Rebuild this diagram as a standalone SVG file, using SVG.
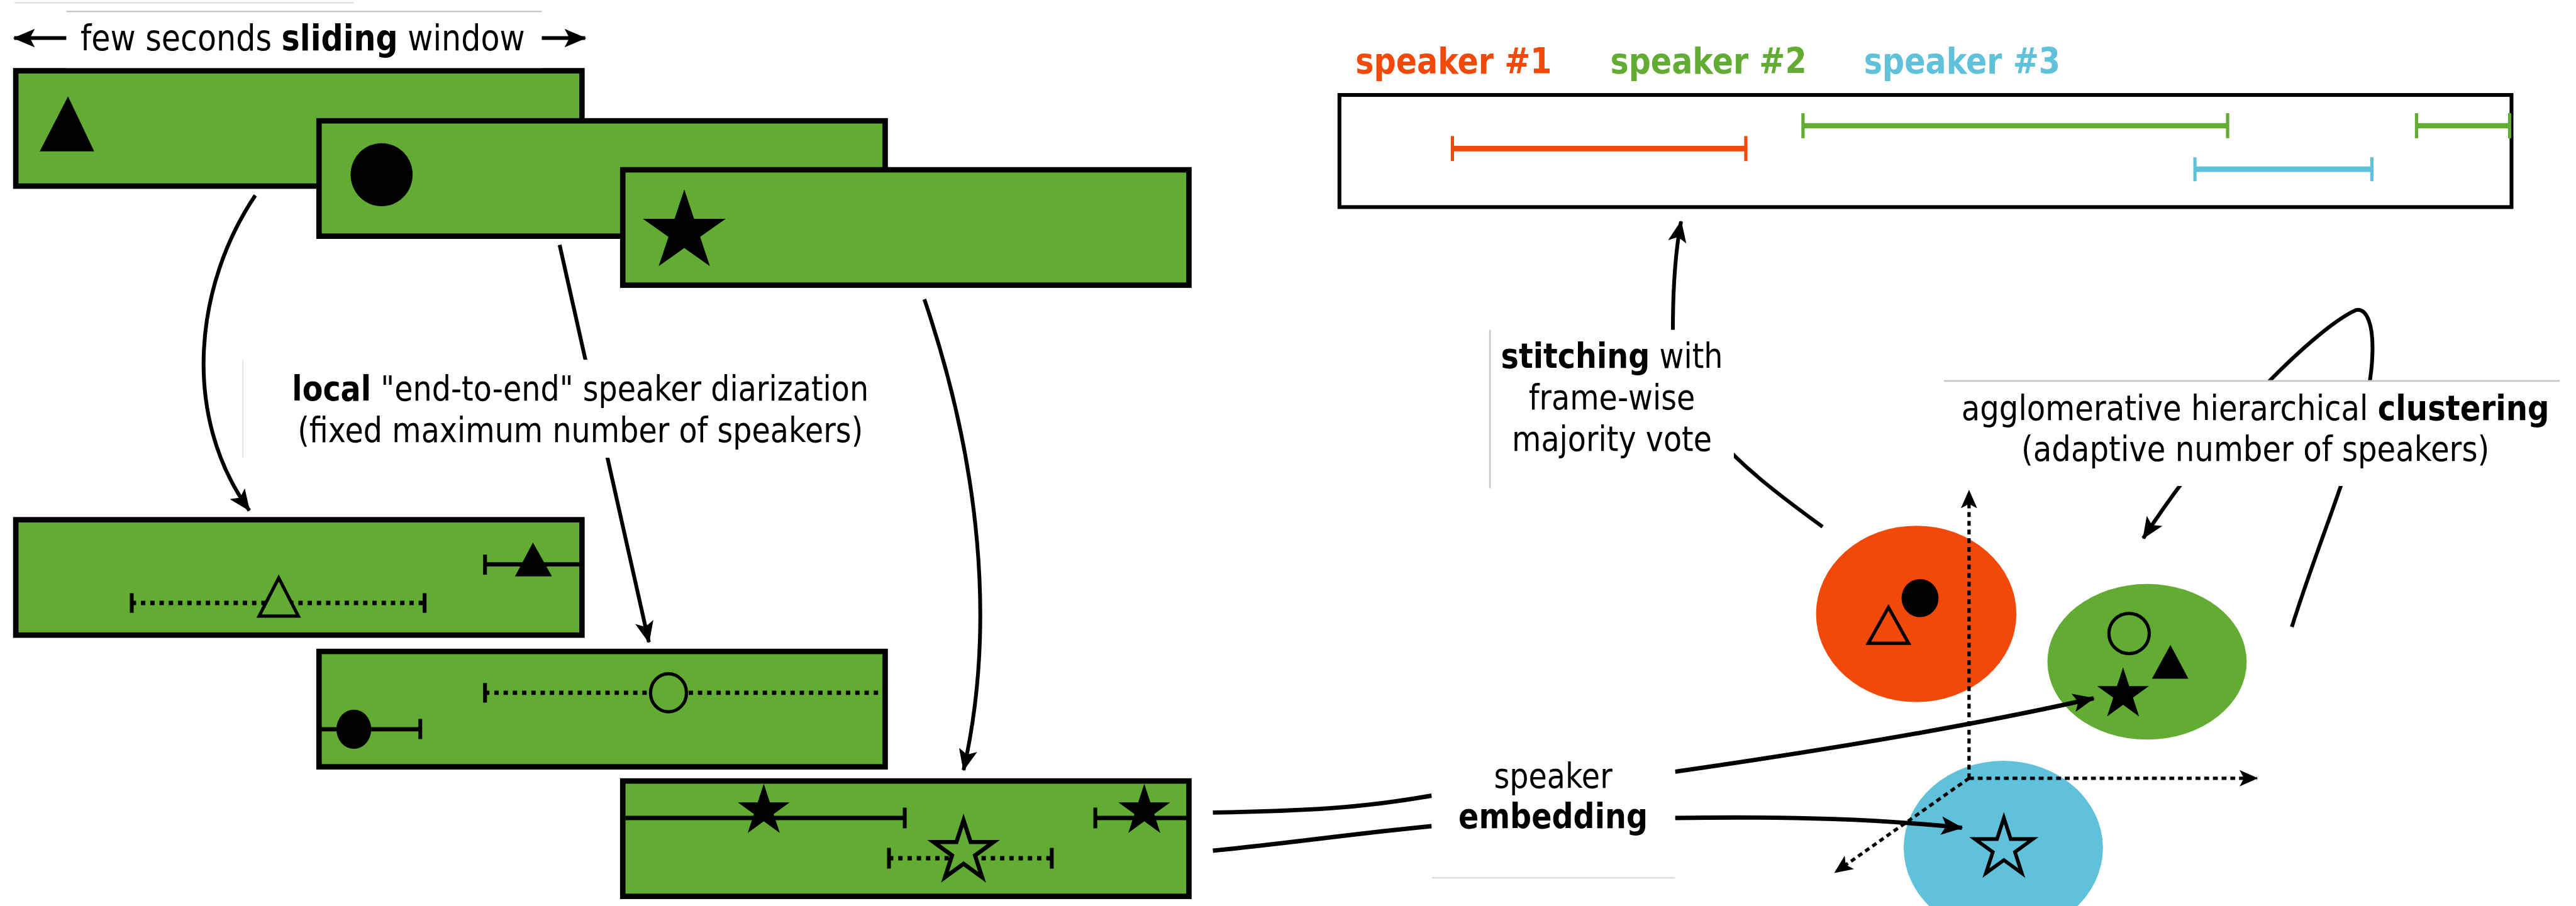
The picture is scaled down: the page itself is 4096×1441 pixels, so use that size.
<svg xmlns="http://www.w3.org/2000/svg" xmlns:xlink="http://www.w3.org/1999/xlink" width="4096" height="1441" viewBox="0 0 4096 1441">
  <style>
    .win { fill: #62ac33; stroke: #000; stroke-width: 10; }
    .ink { fill: #000; stroke: none; }
    .seg { stroke: #000; stroke-width: 8; fill: none; }
    .dot { stroke: #000; stroke-width: 8; fill: none; stroke-dasharray: 8 9; }
    .tick { stroke: #000; stroke-width: 7; fill: none; }
    .hollow { stroke: #000; stroke-width: 6; }
    .conn { stroke: #000; stroke-width: 7; fill: none; }
    .thick { stroke-width: 8; }
    .axis { stroke: #000; stroke-width: 6; fill: none; stroke-dasharray: 9 7; }
    .box { fill: #fff; stroke: none; }
    .edge { stroke: #c8c8c8; stroke-width: 3; }
    .lbl { font-family: "DejaVu Sans", Verdana, sans-serif; font-size: 64px; fill: #000; }
    .b { font-weight: bold; }
    .spk { font-family: "DejaVu Sans", Verdana, sans-serif; font-size: 66px; font-weight: bold; }
  </style>
  <defs>
    <marker id="arr" markerUnits="userSpaceOnUse" markerWidth="40" markerHeight="34" viewBox="0 0 40 34" refX="38" refY="17" orient="auto">
      <path d="M0,0 L40,17 L0,34 L9,17 z" fill="#000"/>
    </marker>
    <marker id="arrS" markerUnits="userSpaceOnUse" markerWidth="34" markerHeight="30" viewBox="0 0 34 30" refX="32" refY="15" orient="auto">
      <path d="M0,0 L34,15 L0,30 L8,15 z" fill="#000"/>
    </marker>
    <!-- five-pointed star, outer radius 100 -->
    <polygon id="star" points="0,-100 22.45,-30.9 95.11,-30.9 36.33,11.8 58.78,80.9 0,38.2 -58.78,80.9 -36.33,11.8 -95.11,-30.9 -22.45,-30.9"/>
  </defs>

  <rect width="4096" height="1441" fill="#fff"/>

  <g transform="scale(0.8656)">
    <line x1="27" y1="5" x2="650" y2="5" stroke="#e2e2e2" stroke-width="3"/>

    <!-- input windows -->
    <g id="window-1">
      <rect class="win" x="29" y="130" width="1040" height="212"/>
      <polygon class="ink" points="125,177 173,278 73,278"/>
    </g>
    <g id="window-2">
      <rect class="win" x="586" y="222" width="1040" height="212"/>
      <ellipse class="ink" cx="701" cy="321" rx="57" ry="58"/>
    </g>
    <g id="window-3">
      <rect class="win" x="1144" y="312" width="1040" height="212"/>
      <use xlink:href="#star" class="ink" transform="translate(1257,426) scale(0.8,0.78)"/>
    </g>

    <!-- local diarization outputs -->
    <g id="local-1">
      <rect class="win" x="29" y="955" width="1040" height="212"/>
      <line class="seg" x1="891" y1="1037" x2="1066" y2="1037"/>
      <line class="tick" x1="891" y1="1019" x2="891" y2="1056"/>
      <polygon class="ink" points="979,997 1014,1059 946,1059"/>
      <line class="dot" x1="242" y1="1108" x2="780" y2="1108"/>
      <line class="tick" x1="242" y1="1090" x2="242" y2="1126"/>
      <line class="tick" x1="780" y1="1090" x2="780" y2="1126"/>
      <polygon class="hollow" fill="#62ac33" points="512,1062 548,1132 476,1132"/>
    </g>
    <g id="local-2">
      <rect class="win" x="586" y="1197" width="1040" height="212"/>
      <line class="dot" x1="891" y1="1273" x2="1626" y2="1273"/>
      <line class="tick" x1="891" y1="1255" x2="891" y2="1291"/>
      <ellipse class="hollow" fill="#62ac33" cx="1228" cy="1273" rx="33" ry="35"/>
      <line class="seg" x1="590" y1="1340" x2="772" y2="1340"/>
      <line class="tick" x1="772" y1="1321" x2="772" y2="1358"/>
      <ellipse class="ink" cx="650" cy="1340" rx="32" ry="36"/>
    </g>
    <g id="local-3">
      <rect class="win" x="1144" y="1435" width="1040" height="212"/>
      <line class="seg" x1="1149" y1="1503" x2="1662" y2="1503"/>
      <line class="tick" x1="1662" y1="1484" x2="1662" y2="1522"/>
      <use xlink:href="#star" class="ink" transform="translate(1403,1490) scale(0.5)"/>
      <line class="seg" x1="2012" y1="1503" x2="2184" y2="1503"/>
      <line class="tick" x1="2012" y1="1484" x2="2012" y2="1522"/>
      <use xlink:href="#star" class="ink" transform="translate(2102,1490) scale(0.5)"/>
      <line class="dot" x1="1633" y1="1577" x2="1932" y2="1577"/>
      <line class="tick" x1="1633" y1="1558" x2="1633" y2="1596"/>
      <line class="tick" x1="1932" y1="1558" x2="1932" y2="1596"/>
      <use xlink:href="#star" fill="#62ac33" stroke="#000" stroke-width="13" transform="translate(1770,1565) scale(0.58)"/>
    </g>

    <!-- global diarization output -->
    <g id="speaker-legend">
      <g transform="translate(2490,135) scale(0.86,1)"><text class="spk" fill="#f2490a">speaker #1</text></g>
      <g transform="translate(2958,135) scale(0.86,1)"><text class="spk" fill="#62ac33">speaker #2</text></g>
      <g transform="translate(3424,135) scale(0.86,1)"><text class="spk" fill="#5fc1da">speaker #3</text></g>
    </g>
    <g id="timeline">
      <rect x="2460.5" y="174.5" width="2153" height="206" fill="#fff" stroke="#000" stroke-width="7"/>
      <g stroke="#f2490a" fill="none">
        <line x1="2668" y1="273" x2="3207" y2="273" stroke-width="10"/>
        <line x1="2668" y1="250" x2="2668" y2="296" stroke-width="6"/>
        <line x1="3207" y1="250" x2="3207" y2="296" stroke-width="6"/>
      </g>
      <g stroke="#62ac33" fill="none">
        <line x1="3312" y1="231" x2="4092" y2="231" stroke-width="10"/>
        <line x1="3312" y1="208" x2="3312" y2="254" stroke-width="6"/>
        <line x1="4092" y1="208" x2="4092" y2="254" stroke-width="6"/>
        <line x1="4439" y1="231" x2="4610" y2="231" stroke-width="10"/>
        <line x1="4439" y1="208" x2="4439" y2="254" stroke-width="6"/>
        <line x1="4610" y1="208" x2="4610" y2="254" stroke-width="6"/>
      </g>
      <g stroke="#5fc1da" fill="none">
        <line x1="4032" y1="311" x2="4357" y2="311" stroke-width="10"/>
        <line x1="4032" y1="289" x2="4032" y2="333" stroke-width="6"/>
        <line x1="4357" y1="289" x2="4357" y2="333" stroke-width="6"/>
      </g>
    </g>

    <!-- embedding space clusters -->
    <g id="cluster-1">
      <ellipse cx="3520" cy="1128" rx="184" ry="162" fill="#f2490a"/>
      <ellipse class="ink" cx="3527" cy="1099" rx="34" ry="35"/>
      <polygon class="hollow" fill="#f2490a" points="3469,1116 3506,1182 3432,1182"/>
    </g>
    <g id="cluster-2">
      <ellipse cx="3944" cy="1216" rx="183" ry="143" fill="#62ac33"/>
      <ellipse class="hollow" fill="#62ac33" cx="3911" cy="1164" rx="37" ry="37"/>
      <polygon class="ink" points="3987,1185 4020,1247 3953,1247"/>
      <use xlink:href="#star" class="ink" transform="translate(3900,1276) scale(0.5)"/>
    </g>
    <g id="cluster-3">
      <ellipse cx="3680" cy="1558" rx="183" ry="160" fill="#5fc1da"/>
      <use xlink:href="#star" fill="#5fc1da" stroke="#000" stroke-width="12" transform="translate(3681,1559) scale(0.56)"/>
    </g>
    <g id="axes">
      <path class="axis" d="M3617,1430 L3617,902" marker-end="url(#arrS)"/>
      <path class="axis" d="M3617,1430 L4146,1430" marker-end="url(#arrS)"/>
      <path class="axis" d="M3617,1430 L3371,1603" marker-end="url(#arrS)"/>
    </g>

    <!-- connectors -->
    <g id="connectors">
      <path class="conn" d="M122,70 L26,70" marker-end="url(#arr)"/>
      <path class="conn" d="M995,70 L1075,70" marker-end="url(#arr)"/>
      <path class="conn" d="M469,359 C360,520 330,760 458,938" marker-end="url(#arr)"/>
      <path class="conn" d="M1028,450 Q1108,810 1192,1180" marker-end="url(#arr)"/>
      <path class="conn" d="M1698,550 C1800,850 1830,1150 1770,1415" marker-end="url(#arr)"/>
      <path class="conn thick" d="M2228,1493 C2400,1490 2500,1485 2630,1462"/>
      <path class="conn thick" d="M2228,1563 C2380,1548 2500,1530 2630,1518"/>
      <path class="conn thick" d="M3077,1418 Q3550,1350 3846,1283" marker-end="url(#arr)"/>
      <path class="conn thick" d="M3077,1503 C3300,1500 3450,1505 3604,1521" marker-end="url(#arr)"/>
      <path class="conn" d="M3348,968 C3200,860 3072,760 3073,606 C3073,520 3078,460 3088,407" marker-end="url(#arr)"/>
      <path class="conn" d="M4210,1152 C4270,960 4355,780 4358,650 C4360,590 4345,565 4327,570 C4260,600 4080,770 3937,989" marker-end="url(#arr)"/>
    </g>

    <!-- labels -->
    <g id="label-window">
      <rect class="box" x="122" y="21" width="873" height="104"/>
      <line class="edge" x1="122" y1="21" x2="995" y2="21"/>
      <g transform="translate(556,92) scale(0.86,1)">
        <text class="lbl" style="font-size:66px" text-anchor="middle">few seconds <tspan class="b">sliding</tspan> window</text>
      </g>
    </g>
    <g id="label-local">
      <rect class="box" x="446" y="661" width="1240" height="180"/>
      <line x1="446" y1="661" x2="446" y2="841" stroke="#e4e4e4" stroke-width="2"/>
      <g transform="translate(1066,736) scale(0.86,1)">
        <text class="lbl" text-anchor="middle"><tspan class="b">local</tspan> "end-to-end" speaker diarization</text>
      </g>
      <g transform="translate(1066,812) scale(0.86,1)">
        <text class="lbl" text-anchor="middle">(fixed maximum number of speakers)</text>
      </g>
    </g>
    <g id="label-stitching">
      <rect class="box" x="2736" y="606" width="449" height="291"/>
      <line class="edge" x1="2737" y1="606" x2="2737" y2="897"/>
      <g transform="translate(2961,676) scale(0.86,1)">
        <text class="lbl" text-anchor="middle"><tspan class="b">stitching</tspan> with</text>
      </g>
      <g transform="translate(2961,752) scale(0.86,1)">
        <text class="lbl" text-anchor="middle">frame-wise</text>
      </g>
      <g transform="translate(2961,828) scale(0.86,1)">
        <text class="lbl" text-anchor="middle">majority vote</text>
      </g>
    </g>
    <g id="label-clustering">
      <rect class="box" x="3571" y="700" width="1131" height="193"/>
      <line class="edge" x1="3571" y1="700" x2="4702" y2="700"/>
      <g transform="translate(4143,772) scale(0.87,1)">
        <text class="lbl" text-anchor="middle">agglomerative hierarchical <tspan class="b">clustering</tspan></text>
      </g>
      <g transform="translate(4143,847) scale(0.87,1)">
        <text class="lbl" text-anchor="middle">(adaptive number of speakers)</text>
      </g>
    </g>
    <g id="label-embedding">
      <rect class="box" x="2630" y="1374" width="447" height="239"/>
      <line x1="2630" y1="1613" x2="3077" y2="1613" stroke="#dedede" stroke-width="3"/>
      <g transform="translate(2853,1447) scale(0.86,1)">
        <text class="lbl" text-anchor="middle">speaker</text>
      </g>
      <g transform="translate(2853,1522) scale(0.86,1)">
        <text class="lbl" text-anchor="middle"><tspan class="b">embedding</tspan></text>
      </g>
    </g>
  </g>
</svg>
